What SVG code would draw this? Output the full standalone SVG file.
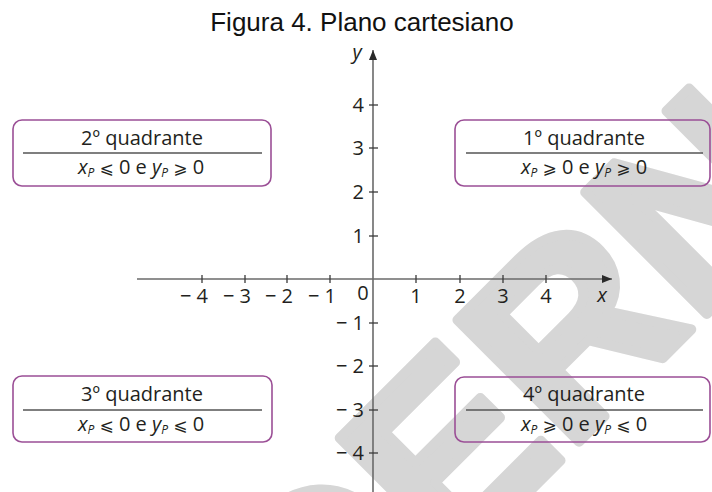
<svg xmlns="http://www.w3.org/2000/svg" width="712" height="492" viewBox="0 0 712 492">
<defs>
<style>
.wm{font-family:"Liberation Sans",Arial,sans-serif;font-weight:bold;font-size:250px;fill:#d6d6d6;stroke:#d6d6d6;stroke-width:10;stroke-linejoin:round}
.title{font-family:"Liberation Sans",Arial,sans-serif;font-size:26px;fill:#111}
.lbl{font-family:"Open Sans","Noto Sans",sans-serif;font-size:20px;fill:#231f20}
.box{fill:none;stroke:#9b4f96;stroke-width:1.6}
.div{stroke:#555;stroke-width:1.5}
.t1{font-family:"Open Sans","Noto Sans",sans-serif;font-size:20px;fill:#231f20;text-anchor:middle}
.it{font-style:italic}
.sub{font-size:12px;font-style:italic}
.sym{font-family:"DejaVu Sans","Noto Sans",sans-serif;font-size:17px}
.axis{stroke:#6a6a6a;stroke-width:1.6;fill:none}
.tick{stroke:#3a3a3a;stroke-width:1.3}
</style>
<marker id="arr" viewBox="0 0 10 8" refX="10" refY="4" markerWidth="10" markerHeight="8" markerUnits="userSpaceOnUse" orient="auto">
<path d="M0,0 L10,4 L0,8 Z" fill="#2a2a2a"/>
</marker>
</defs>
<rect width="712" height="492" fill="#fff"/>
<g id="watermark" transform="translate(445,450) rotate(-45)">
<text class="wm" x="-666" y="89">MODERNA</text>
</g>
<text class="title" x="362" y="31" text-anchor="middle">Figura 4. Plano cartesiano</text>
<g id="axes">
<line class="axis" x1="137" y1="279" x2="612" y2="279" marker-end="url(#arr)"/>
<line class="axis" x1="373" y1="492" x2="373" y2="50" marker-end="url(#arr)"/>
<g class="tick">
<line x1="202" y1="275" x2="202" y2="283"/>
<line x1="245" y1="275" x2="245" y2="283"/>
<line x1="287" y1="275" x2="287" y2="283"/>
<line x1="330" y1="275" x2="330" y2="283"/>
<line x1="416" y1="275" x2="416" y2="283"/>
<line x1="460" y1="275" x2="460" y2="283"/>
<line x1="503" y1="275" x2="503" y2="283"/>
<line x1="546" y1="275" x2="546" y2="283"/>
<line x1="369" y1="105" x2="378" y2="105"/>
<line x1="369" y1="148" x2="378" y2="148"/>
<line x1="369" y1="192" x2="378" y2="192"/>
<line x1="369" y1="236" x2="378" y2="236"/>
<line x1="369" y1="323" x2="378" y2="323"/>
<line x1="369" y1="366" x2="378" y2="366"/>
<line x1="369" y1="410" x2="378" y2="410"/>
<line x1="369" y1="453" x2="378" y2="453"/>
</g>
<g class="lbl">
<text x="208" y="303" text-anchor="end">− 4</text>
<text x="251" y="303" text-anchor="end">− 3</text>
<text x="293" y="303" text-anchor="end">− 2</text>
<text x="336" y="303" text-anchor="end">− 1</text>
<text x="363" y="300" text-anchor="middle">0</text>
<text x="416" y="303" text-anchor="middle">1</text>
<text x="460" y="303" text-anchor="middle">2</text>
<text x="503" y="303" text-anchor="middle">3</text>
<text x="546" y="303" text-anchor="middle">4</text>
<text x="602" y="302" text-anchor="middle" class="it">x</text>
<text x="357" y="59" text-anchor="middle" class="it">y</text>
<text x="364" y="112" text-anchor="end">4</text>
<text x="364" y="155" text-anchor="end">3</text>
<text x="364" y="199" text-anchor="end">2</text>
<text x="364" y="243" text-anchor="end">1</text>
<text x="364" y="330" text-anchor="end">− 1</text>
<text x="364" y="373" text-anchor="end">− 2</text>
<text x="364" y="417" text-anchor="end">− 3</text>
<text x="364" y="460" text-anchor="end">− 4</text>
</g>
</g>
<g id="q2">
<rect class="box" x="13" y="120" width="258" height="66" rx="9"/>
<line class="div" x1="23" y1="153" x2="262" y2="153"/>
<text class="t1" x="142" y="145">2º quadrante</text>
<text class="t1" x="141" y="174"><tspan class="it">x</tspan><tspan class="sub" dy="3">P</tspan><tspan dy="-3"> </tspan><tspan class="sym">⩽</tspan> 0 e <tspan class="it">y</tspan><tspan class="sub" dy="3">P</tspan><tspan dy="-3"> </tspan><tspan class="sym">⩾</tspan> 0</text>
</g>
<g id="q1">
<rect class="box" x="455" y="120" width="255" height="66" rx="9"/>
<line class="div" x1="466" y1="153" x2="703" y2="153"/>
<text class="t1" x="584" y="145">1º quadrante</text>
<text class="t1" x="584" y="174"><tspan class="it">x</tspan><tspan class="sub" dy="3">P</tspan><tspan dy="-3"> </tspan><tspan class="sym">⩾</tspan> 0 e <tspan class="it">y</tspan><tspan class="sub" dy="3">P</tspan><tspan dy="-3"> </tspan><tspan class="sym">⩾</tspan> 0</text>
</g>
<g id="q3">
<rect class="box" x="13" y="376" width="259" height="66" rx="9"/>
<line class="div" x1="23" y1="410" x2="262" y2="410"/>
<text class="t1" x="142" y="401">3º quadrante</text>
<text class="t1" x="141" y="431"><tspan class="it">x</tspan><tspan class="sub" dy="3">P</tspan><tspan dy="-3"> </tspan><tspan class="sym">⩽</tspan> 0 e <tspan class="it">y</tspan><tspan class="sub" dy="3">P</tspan><tspan dy="-3"> </tspan><tspan class="sym">⩽</tspan> 0</text>
</g>
<g id="q4">
<rect class="box" x="455" y="377" width="255" height="65" rx="9"/>
<line class="div" x1="466" y1="410" x2="703" y2="410"/>
<text class="t1" x="584" y="401">4º quadrante</text>
<text class="t1" x="584" y="431"><tspan class="it">x</tspan><tspan class="sub" dy="3">P</tspan><tspan dy="-3"> </tspan><tspan class="sym">⩾</tspan> 0 e <tspan class="it">y</tspan><tspan class="sub" dy="3">P</tspan><tspan dy="-3"> </tspan><tspan class="sym">⩽</tspan> 0</text>
</g>
</svg>
